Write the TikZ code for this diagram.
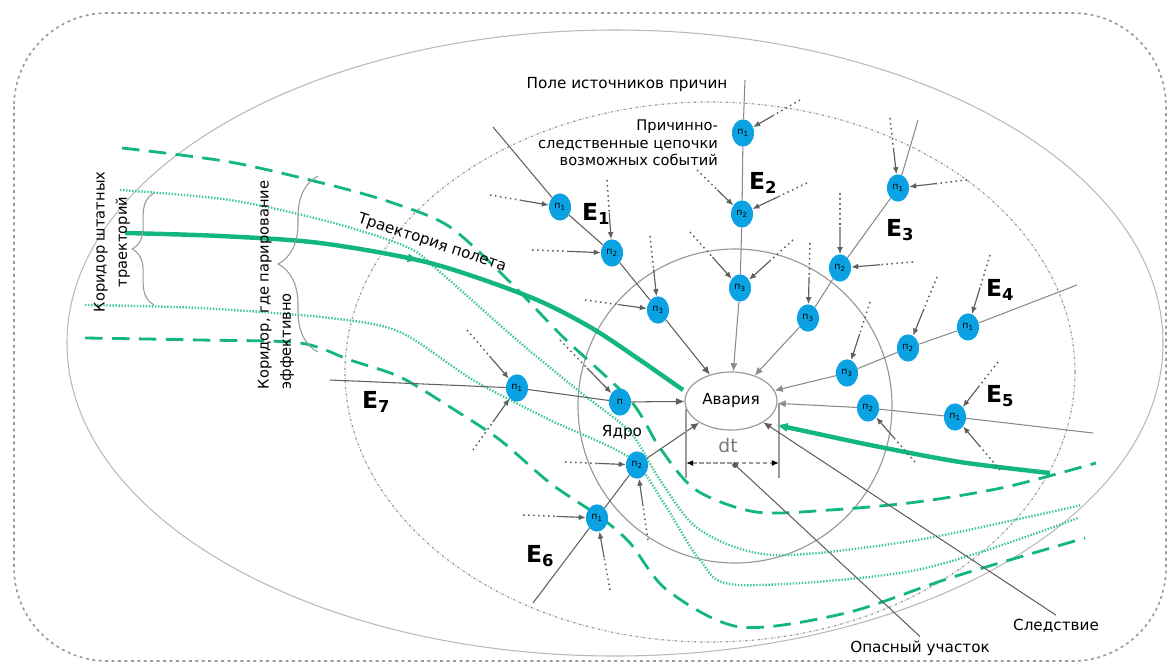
\documentclass[tikz,border=0pt]{standalone}
\usepackage{fontspec}
\setmainfont{DejaVu Sans}
\usetikzlibrary{shapes.geometric,arrows.meta,calc,decorations.pathreplacing,decorations.markings}

\definecolor{trackgreen}{RGB}{20,182,128}
\definecolor{sidegreen}{RGB}{60,200,148}
\definecolor{eventblue}{RGB}{10,162,226}
\definecolor{chaingray}{RGB}{95,95,95}
\definecolor{zonegray}{RGB}{150,155,155}

\newcommand{\causeto}[2]{%
  \draw[causedots] (#1) -- ($(#1)!0.45!(#2)$);
  \draw[causehead] ($(#1)!0.45!(#2)$) -- (#2);}

\begin{document}
\begin{tikzpicture}[
    x=0.03cm, y=-0.03cm,
    every node/.style={font=\fontsize{13}{15}\selectfont},
    event/.style={ellipse, fill=eventblue, minimum width=0.66cm, minimum height=0.82cm, inner sep=0pt, font=\fontsize{8}{8}\selectfont},
    crashnode/.style={ellipse, draw=zonegray, line width=1pt, fill=white, minimum width=2.76cm, minimum height=1.74cm, inner sep=0pt, font=\fontsize{13}{15}\selectfont},
    elabel/.style={font=\fontsize{20}{22}\selectfont\bfseries},
    chain/.style={chaingray, line width=0.9pt},
    lightchain/.style={zonegray!90!black, line width=0.9pt},
    causedots/.style={chaingray, line width=1.3pt, dash pattern=on 1.3pt off 3pt},
    causehead/.style={chaingray, line width=1pt, -{Latex[length=6pt,width=5pt]}},
    track/.style={trackgreen, line width=3.8pt},
    dashtrack/.style={trackgreen, line width=2.4pt, dash pattern=on 15pt off 8pt},
    dottrack/.style={sidegreen, line width=2pt, dash pattern=on 1.2pt off 1.4pt},
    frame/.style={zonegray, line width=1.4pt, dash pattern=on 2.5pt off 3pt, rounded corners=2.8cm},
    outerzone/.style={zonegray!70, line width=0.9pt},
    fieldzone/.style={zonegray, line width=1pt, dash pattern=on 2pt off 1.5pt on 0.5pt off 1.5pt},
    corezone/.style={zonegray, line width=1pt},
    bracket/.style={zonegray, line width=0.9pt, decorate, decoration={brace, amplitude=#1}},
    dtline/.style={zonegray, line width=1.2pt}
]
\useasboundingbox (0,0) rectangle (1171,666);
\draw[frame] (14,13) rectangle (1166,661);
\draw[outerzone] (615,343) ellipse [x radius=548, y radius=313];
\draw[fieldzone] (710,372) ellipse [x radius=365, y radius=270];
\draw[corezone] (735,406) circle [radius=157];

\draw[dashtrack] plot[smooth, tension=0.5] coordinates {(122,148) (230,162) (330,185) (393,203) (450,227) (510,282) (563,337) (630,400) (660,448) (696,490) (756,512) (830,510) (917,502) (1006,487) (1096,463)};
\draw[dottrack] plot[smooth, tension=0.5] coordinates {(120,190) (230,200) (330,222) (407,247) (440,272) (517,340) (580,392) (630,432) (660,480) (700,530) (774,555) (917,540) (1081,505)};
\draw[dottrack] plot[smooth, tension=0.5] coordinates {(85,305) (200,308) (330,318) (400,332) (473,380) (550,420) (630,458) (665,505) (700,560) (739,585) (917,570) (1078,518)};
\draw[dashtrack] plot[smooth, tension=0.5] coordinates {(85,338) (200,340) (300,343) (350,360) (400,377) (450,407) (500,440) (550,483) (600,517) (630,543) (667,590) (740,627) (846,613) (953,577) (1085,538)};
\draw[track, postaction={decorate}, decoration={markings, mark=at position 0.5 with {\arrow{Latex[length=10pt,width=8pt]}}}] plot[smooth, tension=0.5] coordinates {(125,233) (220,236) (320,243) (430,263) (530,297) (590,327) (640,360) (683,390)};
\draw[track, -{Latex[length=10pt,width=8pt]}] plot[smooth, tension=0.5] coordinates {(1050,473) (960,462) (870,445) (800,430) (776,425)};

\draw[bracket=0.65cm] (154,305) -- (154,193);
\draw[bracket=1.2cm] (318,352) -- (318,176);

\node[crashnode] (crash) at (731,401) {Авария};

\node[event] (e11) at (560,207) {п\textsubscript{1}};
\node[event] (e12) at (612,253) {п\textsubscript{2}};
\node[event] (e13) at (658,310) {п\textsubscript{3}};
\node[event] (e21) at (743,133) {п\textsubscript{1}};
\node[event] (e22) at (742,214) {п\textsubscript{2}};
\node[event] (e23) at (740,288) {п\textsubscript{3}};
\node[event] (e31) at (898,188) {п\textsubscript{1}};
\node[event] (e32) at (840,268) {п\textsubscript{2}};
\node[event] (e33) at (808,318) {п\textsubscript{3}};
\node[event] (e41) at (968,327) {п\textsubscript{1}};
\node[event] (e42) at (908,348) {п\textsubscript{2}};
\node[event] (e43) at (847,373) {п\textsubscript{3}};
\node[event] (e51) at (955,417) {п\textsubscript{1}};
\node[event] (e52) at (868,408) {п\textsubscript{2}};
\node[event] (e61) at (597,518) {п\textsubscript{1}};
\node[event] (e62) at (637,465) {п\textsubscript{2}};
\node[event] (e71) at (517,388) {п\textsubscript{1}};
\node[event] (e72) at (620,402) {п};

\coordinate (s1) at (493,127);
\coordinate (s2) at (745,80);
\coordinate (s3) at (918,120);
\coordinate (s4) at (1077,285);
\coordinate (s5) at (1093,433);
\coordinate (s6) at (533,603);
\coordinate (s7) at (330,380);

\draw[chain] (s1) -- (e11) -- (e12) -- (e13);
\draw[chain, -{Latex[length=7pt,width=6pt]}] (e13) -- (crash);
\draw[lightchain] (s2) -- (e21) -- (e22) -- (e23);
\draw[lightchain, -{Latex[length=7pt,width=6pt]}] (e23) -- (crash);
\draw[lightchain] (s3) -- (e31) -- (e32) -- (e33);
\draw[lightchain, -{Latex[length=7pt,width=6pt]}] (e33) -- (crash);
\draw[lightchain] (s4) -- (e41) -- (e42) -- (e43);
\draw[lightchain, -{Latex[length=7pt,width=6pt]}] (e43) -- (crash);
\draw[lightchain] (s5) -- (e51) -- (e52);
\draw[lightchain, -{Latex[length=7pt,width=6pt]}] (e52) -- (crash);
\draw[chain] (s6) -- (e61) -- (e62);
\draw[chain, -{Latex[length=7pt,width=6pt]}] (e62) -- (crash);
\draw[chain] (s7) -- (e71) -- (e72);
\draw[chain, -{Latex[length=7pt,width=6pt]}] (e72) -- (crash);

\coordinate (c11) at (490,195);
\coordinate (c12a) at (532,250);
\coordinate (c12b) at (607,180);
\coordinate (c13a) at (585,300);
\coordinate (c13b) at (650,236);
\coordinate (c21) at (800,100);
\coordinate (c22a) at (697,170);
\coordinate (c22b) at (807,183);
\coordinate (c23a) at (690,232);
\coordinate (c23b) at (793,240);
\coordinate (c31a) at (890,118);
\coordinate (c31b) at (967,180);
\coordinate (c32a) at (840,193);
\coordinate (c32b) at (913,262);
\coordinate (c33) at (810,243);
\coordinate (c41) at (990,255);
\coordinate (c42) at (937,277);
\coordinate (c43) at (870,302);
\coordinate (c51a) at (998,362);
\coordinate (c51b) at (1000,470);
\coordinate (c52) at (915,462);
\coordinate (c61a) at (523,515);
\coordinate (c61b) at (610,590);
\coordinate (c62a) at (565,462);
\coordinate (c62b) at (648,540);
\coordinate (c71a) at (467,330);
\coordinate (c71b) at (473,450);
\coordinate (c72) at (560,340);

\causeto{c11}{e11}
\causeto{c12a}{e12}
\causeto{c12b}{e12}
\causeto{c13a}{e13}
\causeto{c13b}{e13}
\causeto{c21}{e21}
\causeto{c22a}{e22}
\causeto{c22b}{e22}
\causeto{c23a}{e23}
\causeto{c23b}{e23}
\causeto{c31a}{e31}
\causeto{c31b}{e31}
\causeto{c32a}{e32}
\causeto{c32b}{e32}
\causeto{c33}{e33}
\causeto{c41}{e41}
\causeto{c42}{e42}
\causeto{c43}{e43}
\causeto{c51a}{e51}
\causeto{c51b}{e51}
\causeto{c52}{e52}
\causeto{c61a}{e61}
\causeto{c61b}{e61}
\causeto{c62a}{e62}
\causeto{c62b}{e62}
\causeto{c71a}{e71}
\causeto{c71b}{e71}
\causeto{c72}{e72}

\node[elabel] (lblE1) at (596,214) {E\textsubscript{1}};
\node[elabel] (lblE2) at (763,183) {E\textsubscript{2}};
\node[elabel] (lblE3) at (900,230) {E\textsubscript{3}};
\node[elabel] (lblE4) at (1000,290) {E\textsubscript{4}};
\node[elabel] (lblE5) at (1000,396) {E\textsubscript{5}};
\node[elabel] (lblE6) at (540,556) {E\textsubscript{6}};
\node[elabel] (lblE7) at (376,402) {E\textsubscript{7}};

\node (fieldlbl) at (627,85) {Поле источников причин};
\node[align=right, anchor=east, font=\fontsize{12.5}{15}\selectfont] (chainlbl) at (722,143) {Причинно-\\следственные цепочки\\возможных событий};
\node (corelbl) at (622,433) {Ядро};
\node[rotate=-18.5] (traclbl) at (432,243) {Траектория полета};
\node[rotate=90, align=center, font=\fontsize{12.5}{19}\selectfont] (normlbl) at (112,242) {Коридор штатных\\траекторий};
\node[rotate=90, align=left, font=\fontsize{12.5}{19}\selectfont] (parrylbl) at (276,285) {Коридор, где парирование\\эффективно};
\node (dangerlbl) at (920,648) {Опасный участок};
\node (conslbl) at (1056,626) {Следствие};

\coordinate (dtl) at (686,463);
\coordinate (dtr) at (779,463);
\coordinate (dtmid) at (733,463);
\draw[dtline] (686,409) -- (686,478);
\draw[dtline] (779,404) -- (779,478);
\draw[dtline, dash pattern=on 4pt off 2pt, {Latex[length=6pt,width=5pt,color=black]}-{Latex[length=6pt,width=5pt,color=black]}] (dtl) -- (dtr);
\node[text=zonegray!80!black, font=\fontsize{16}{18}\selectfont] (dtlbl) at (728,446) {dt};

\draw[chain, -{Circle[length=5pt]}] (dangerlbl.north) -- (dtmid);
\draw[chain, -{Latex[length=7pt,width=6pt]}] (conslbl.north) -- (crash);
\end{tikzpicture}
\end{document}
